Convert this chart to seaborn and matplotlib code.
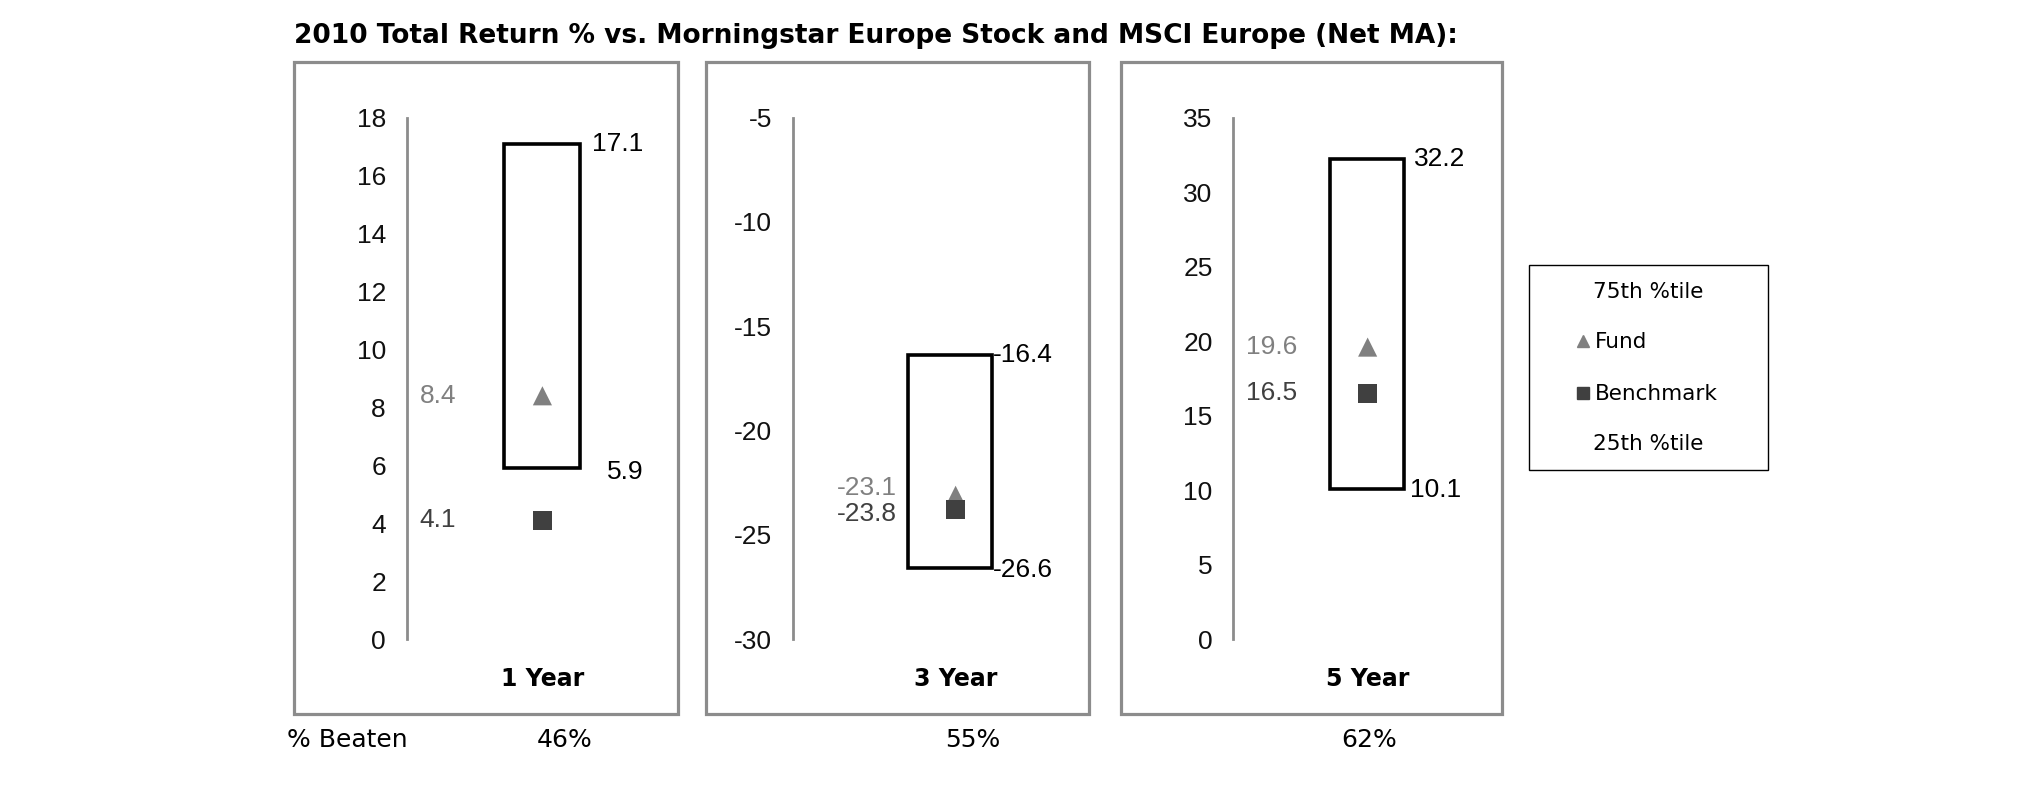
import matplotlib
matplotlib.use("Agg")
import matplotlib.pyplot as plt
import matplotlib.transforms as mtransforms
from matplotlib.patches import Rectangle
import numpy as np
import pandas as pd
import seaborn as sns

# data
periods = ["1 Year", "3 Year", "5 Year"]
pct_75 = [17.1, -16.4, 32.2]
pct_25 = [5.9, -26.6, 10.1]
fund = [8.4, -23.1, 19.6]
benchmark = [4.1, -23.8, 16.5]
pct_beaten = ["46%", "55%", "62%"]
y_ranges = [(0, 18), (-30, -5), (0, 35)]
y_steps = [2, 5, 5]
title = "2010 Total Return % vs. Morningstar Europe Stock and MSCI Europe (Net MA):"

sns.set_style("white")
plt.rcParams["font.family"] = ["Liberation Sans", "DejaVu Sans"]
plt.rcParams["axes.unicode_minus"] = False
plt.rcParams["text.color"] = "black"

W, H = 2025, 806
S = W / 1568  # layout measured on the reduced reference


def fx(p):
    return p * S / W


def fy(p):
    return 1 - p * S / H


FRAME_GRAY = "#8c8c8c"
FUND_C = "#808080"
BENCH_C = "#404040"
NUM_FS = 19

# layout (reduced-reference pixels)
frames = [(228, 525), (547, 843), (868, 1163)]
spines = [315, 614, 955]
box_x = [0.498, 0.530, 0.498]
box_w = [0.281, 0.284, 0.274]
mark_x = [0.50, 0.55, 0.50]
val_x = [0.048, 0.148, 0.048]
fund_dy = [0, 6, 0]
bench_dy = [0, -3, 0]
top_off = [(9, 0), (1, 0), (8, 0)]
bot_off = [(21, -3), (1, -1), (5, -1)]
beaten_x = [437, 753, 1060]

fig = plt.figure(figsize=(W / 100, H / 100), dpi=100)

fig.text(fx(228), fy(28), title, fontsize=19, fontweight="bold",
         family="DejaVu Sans", ha="left", va="center")

for i in range(3):
    fl, fr = frames[i]
    fig.add_artist(Rectangle((fx(fl), fy(553)), fx(fr) - fx(fl), fy(48) - fy(553),
                             transform=fig.transFigure, fill=False,
                             edgecolor=FRAME_GRAY, lw=2.3))
    ax = fig.add_axes([fx(spines[i]), fy(495), fx(fr) - fx(spines[i]), fy(91) - fy(495)])
    lo, hi = y_ranges[i]
    ax.set_ylim(lo, hi)
    ax.set_xlim(0, 1)
    ax.set_yticks(np.arange(lo, hi + 0.1, y_steps[i]))
    ax.set_xticks([])
    for s in ["top", "right", "bottom"]:
        ax.spines[s].set_visible(False)
    ax.spines["left"].set_color(FRAME_GRAY)
    ax.spines["left"].set_linewidth(2)
    ax.tick_params(axis="y", direction="out", length=6, width=2, color=FRAME_GRAY,
                   labelsize=NUM_FS, labelcolor="#111111", pad=9)
    ax.patch.set_alpha(0)

    # 25th-75th percentile box
    ax.bar(box_x[i], pct_75[i] - pct_25[i], bottom=pct_25[i], width=box_w[i],
           fill=False, edgecolor="black", lw=2.6)

    df = pd.DataFrame({"x": [mark_x[i], mark_x[i]], "y": [fund[i], benchmark[i]],
                       "kind": ["Fund", "Benchmark"]})
    sns.scatterplot(data=df, x="x", y="y", hue="kind", style="kind",
                    markers={"Fund": "^", "Benchmark": "s"},
                    palette={"Fund": FUND_C, "Benchmark": BENCH_C},
                    s=190, linewidth=0, legend=False, ax=ax, zorder=3)
    ax.set_xlabel("")
    ax.set_ylabel("")

    bt = mtransforms.blended_transform_factory(ax.transAxes, ax.transData)
    ax.annotate(f"{fund[i]:.1f}", (val_x[i], fund[i]), xycoords=bt,
                textcoords="offset pixels", xytext=(0, fund_dy[i] * S),
                color=FUND_C, fontsize=NUM_FS, ha="left", va="center")
    ax.annotate(f"{benchmark[i]:.1f}", (val_x[i], benchmark[i]), xycoords=bt,
                textcoords="offset pixels", xytext=(0, bench_dy[i] * S),
                color=BENCH_C, fontsize=NUM_FS, ha="left", va="center")

    right = box_x[i] + box_w[i] / 2
    ax.annotate(f"{pct_75[i]:.1f}", (right, pct_75[i]), textcoords="offset pixels",
                xytext=(top_off[i][0] * S, top_off[i][1] * S), xycoords=bt,
                fontsize=NUM_FS, ha="left", va="center", color="black")
    ax.annotate(f"{pct_25[i]:.1f}", (right, pct_25[i]), textcoords="offset pixels",
                xytext=(bot_off[i][0] * S, bot_off[i][1] * S), xycoords=bt,
                fontsize=NUM_FS, ha="left", va="center", color="black")

    fig.text(fx(spines[i]) + mark_x[i] * (fx(fr) - fx(spines[i])), fy(526), periods[i],
             fontsize=17, fontweight="bold", family="DejaVu Sans", ha="center", va="center")
    fig.text(fx(beaten_x[i]), fy(573), pct_beaten[i], fontsize=18,
             family="DejaVu Sans", ha="center", va="center")

fig.text(fx(222), fy(573), "% Beaten", fontsize=18, family="DejaVu Sans",
         ha="left", va="center")

# legend panel
fig.add_artist(Rectangle((fx(1184), fy(364)), fx(1369) - fx(1184), fy(205) - fy(364),
                         transform=fig.transFigure, fill=False, edgecolor="black", lw=1))
LEG_FS = 15.5
fig.text(fx(1276), fy(226), "75th %tile", fontsize=LEG_FS, family="DejaVu Sans",
         ha="center", va="center")
fig.text(fx(1276), fy(344), "25th %tile", fontsize=LEG_FS, family="DejaVu Sans",
         ha="center", va="center")
fig.text(fx(1235), fy(265), "Fund", fontsize=LEG_FS, family="DejaVu Sans",
         ha="left", va="center")
fig.text(fx(1235), fy(305), "Benchmark", fontsize=LEG_FS, family="DejaVu Sans",
         ha="left", va="center")
fig.lines.append(plt.Line2D([fx(1226)], [fy(264)], marker="^", color=FUND_C, ms=9,
                            ls="none", transform=fig.transFigure, figure=fig))
fig.lines.append(plt.Line2D([fx(1226)], [fy(304)], marker="s", color=BENCH_C, ms=8,
                            ls="none", transform=fig.transFigure, figure=fig))

fig.savefig("out.png", dpi=100, facecolor="white")
